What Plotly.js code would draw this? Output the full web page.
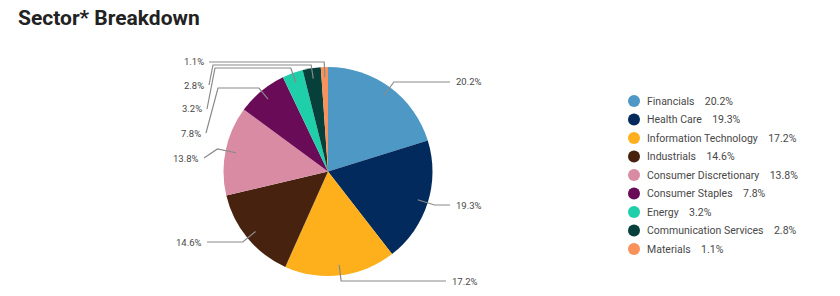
<!DOCTYPE html>
<html>
<head>
<meta charset="utf-8">
<script src="https://cdn.plot.ly/plotly-3.0.1.min.js"></script>
<style>
  html, body { margin: 0; padding: 0; background: #fff; }
  #chart { width: 840px; height: 296px; }
</style>
</head>
<body>
<div id="chart"></div>
<script>
// ---- data ----
const sectors = ['Financials', 'Health Care', 'Information Technology', 'Industrials',
  'Consumer Discretionary', 'Consumer Staples', 'Energy', 'Communication Services', 'Materials'];
const weights = [20.2, 19.3, 17.2, 14.6, 13.8, 7.8, 3.2, 2.8, 1.1];
const colors = ['#4d98c5', '#032a5c', '#fdaf1c', '#47230f', '#d98ba3', '#6a0b57', '#1fcfa9', '#073f3a', '#f8925a'];
const titleText = 'Sector* Breakdown';

// ---- layout helpers (pixel geometry) ----
const W = 840, H = 296;
const cx = 328, cy = 171.5, R = 104.5;
const px = x => x / W;
const py = y => 1 - y / H;

// label placement (layout only)
const labelCfg = [
  {side: 'r', x: 454, y: 82},
  {side: 'r', x: 454, y: 205},
  {side: 'r', x: 450, y: 281},
  {side: 'l', x: 204, y: 242},
  {side: 'l', x: 201, y: 158, radial: true},
  {side: 'l', x: 203, y: 133, level: 88, bend: 218},
  {side: 'l', x: 204, y: 109, level: 68, bend: 215},
  {side: 'l', x: 206, y: 85, level: 65, bend: 213},
  {side: 'l', x: 206, y: 62, level: 62}
];

const total = weights.reduce((a, b) => a + b, 0);
let cum = 0;
const shapes = [];
const annotations = [];
weights.forEach((w, i) => {
  const mid = (cum + w / 2) / total * 2 * Math.PI;
  cum += w;
  const dx = Math.sin(mid), dy = -Math.cos(mid);
  const cfg = labelCfg[i];
  const pts = [];
  pts.push([cx + dx * R * 0.9, cy + dy * R * 0.9]);
  const lvl = cfg.level !== undefined ? cfg.level : cfg.y;
  let t = Math.abs(dy) > 0.05 ? (lvl - cy) / dy : -1;
  if (cfg.radial || t < R * 0.98 || t > R * 1.5) t = R * 1.08;
  pts.push([cx + dx * t, cy + dy * t]);
  if (cfg.bend !== undefined) pts.push([cfg.bend, cfg.level]);
  const endX = cfg.side === 'r' ? cfg.x - 4 : cfg.x + 3;
  pts.push([endX, cfg.y]);
  const path = pts.map((p, k) => (k ? 'L' : 'M') + px(p[0]).toFixed(5) + ',' + py(p[1]).toFixed(5)).join(' ');
  shapes.push({type: 'path', xref: 'paper', yref: 'paper', path: path,
    line: {color: '#8a8a8a', width: 1.2}});
  annotations.push({xref: 'paper', yref: 'paper', x: px(cfg.x), y: py(cfg.y),
    xanchor: cfg.side === 'r' ? 'left' : 'right', yanchor: 'middle',
    text: w.toFixed(1) + '%', showarrow: false,
    font: {family: 'Roboto, sans-serif', size: 9.5, color: '#484848'}});
});

// legend text as annotations tied to the legend axis
const legendGap = '\u00a0\u00a0\u00a0\u00a0';
sectors.forEach((s, i) => {
  annotations.push({xref: 'paper', yref: 'y', x: px(645), y: i,
    xanchor: 'left', yanchor: 'middle', showarrow: false,
    text: s + legendGap + weights[i].toFixed(1) + '%',
    font: {family: 'Roboto, sans-serif', size: 10.5, color: '#484848'}});
});

// legend row geometry
const legTop = 101, legStep = 18.5;

const traces = [
  {
    type: 'pie',
    values: weights,
    labels: sectors,
    marker: {colors: colors, line: {width: 0}},
    sort: false,
    direction: 'clockwise',
    rotation: 0,
    textinfo: 'none',
    hoverinfo: 'skip',
    showlegend: false,
    domain: {x: [px(cx - R), px(cx + R)], y: [py(cy + R), py(cy - R)]}
  },
  {
    type: 'scatter',
    mode: 'markers',
    x: sectors.map(() => 0),
    y: sectors.map((s, i) => i),
    marker: {size: 12, color: colors, line: {width: 0}},
    hoverinfo: 'skip',
    showlegend: false,
    xaxis: 'x', yaxis: 'y'
  }
];

const layout = {
  width: W, height: H,
  margin: {l: 0, r: 0, t: 0, b: 0},
  paper_bgcolor: '#fff', plot_bgcolor: 'rgba(0,0,0,0)',
  showlegend: false,
  title: {text: '<b>' + titleText + '</b>', x: px(18), xref: 'container', xanchor: 'left',
    y: 1 - 17.5 / H, yref: 'container', yanchor: 'middle',
    font: {family: 'Roboto, sans-serif', size: 21, color: '#222'}},
  xaxis: {domain: [px(624), px(644)], range: [-1, 1], visible: false, fixedrange: true},
  yaxis: {domain: [0, 1], range: [(H - legTop) / legStep, -legTop / legStep], visible: false, fixedrange: true},
  shapes: shapes,
  annotations: annotations
};

Plotly.newPlot('chart', traces, layout, {staticPlot: true, displayModeBar: false});
</script>
</body>
</html>
